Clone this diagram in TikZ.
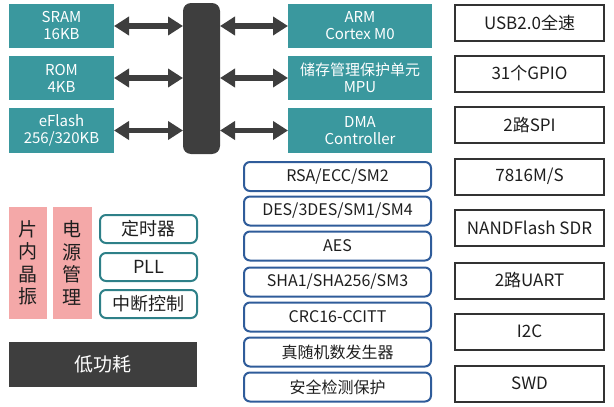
\documentclass[tikz,border=0pt]{standalone}
\usepackage{fontspec}
\setmainfont{Noto Sans CJK SC}
\usetikzlibrary{arrows.meta}
\definecolor{tealbg}{RGB}{58,152,158}
\definecolor{tealline}{RGB}{46,128,136}
\definecolor{busdark}{RGB}{62,62,62}
\definecolor{pinkbg}{RGB}{244,168,168}
\definecolor{blueline}{RGB}{47,92,154}
\definecolor{darkline}{RGB}{50,50,50}
\definecolor{txt}{RGB}{30,30,30}
\tikzset{
  tealbox/.style={fill=tealbg, text=white, inner sep=0pt, outer sep=0pt, align=center,
    font=\fontsize{15}{17}\selectfont},
  busbar/.style={fill=busdark, rounded corners=8pt, inner sep=0pt, outer sep=0pt},
  biarrow/.style={draw=busdark, line width=5.5pt,
    {Triangle[length=15pt,width=18pt]}-{Triangle[length=15pt,width=18pt]}},
  periph/.style={draw=darkline, line width=2pt, fill=white, text=txt, inner sep=0pt, outer sep=0pt,
    minimum width=149pt, minimum height=36pt, font=\fontsize{17}{19}\selectfont},
  cryptobox/.style={draw=blueline, line width=2pt, rounded corners=6pt, text=txt, inner sep=0pt, outer sep=0pt,
    minimum width=187pt, minimum height=29pt, font=\fontsize{16}{18}\selectfont},
  pinkbox/.style={fill=pinkbg, text=txt, inner sep=0pt, outer sep=0pt, align=center,
    minimum height=112pt, font=\fontsize{19}{22.5}\selectfont},
  sysbox/.style={draw=tealline, line width=2pt, rounded corners=6pt, text=txt, inner sep=0pt, outer sep=0pt,
    minimum width=97pt, minimum height=28pt, font=\fontsize{18}{20}\selectfont},
  lowbox/.style={fill=busdark, text=white, inner sep=0pt, outer sep=0pt,
    minimum width=188pt, minimum height=45pt, font=\fontsize{19}{21}\selectfont}
}
\begin{document}
\begin{tikzpicture}[x=1pt,y=-1pt]
\useasboundingbox (0,0) rectangle (614,407);
% left memory boxes
\node[tealbox, minimum width=105pt, minimum height=44pt] (sram) at (61.5,26) {SRAM\\16KB};
\node[tealbox, minimum width=105pt, minimum height=44pt] (rom) at (61.5,78) {ROM\\4KB};
\node[tealbox, minimum width=105pt, minimum height=45pt] (eflash) at (61.5,130.5) {eFlash\\256/320KB};
% bus
\node[busbar, minimum width=37pt, minimum height=151pt] (bus) at (201.5,78.5) {};
% right core boxes
\node[tealbox, minimum width=144pt, minimum height=44pt] (arm) at (360,26) {ARM\\Cortex M0};
\node[tealbox, minimum width=144pt, minimum height=44pt] (mpu) at (360,78) {储存管理保护单元\\MPU};
\node[tealbox, minimum width=144pt, minimum height=45pt] (dma) at (360,130.5) {DMA\\Controller};
% arrows
\draw[biarrow] (sram.east) -- (sram.east -| bus.west);
\draw[biarrow] (rom.east) -- (rom.east -| bus.west);
\draw[biarrow] (eflash.east) -- (eflash.east -| bus.west);
\draw[biarrow] (bus.east |- arm.west) -- (arm.west);
\draw[biarrow] (bus.east |- mpu.west) -- (mpu.west);
\draw[biarrow] (bus.east |- dma.west) -- (dma.west);
% peripherals
\node[periph] (usb) at (529.5,22.5) {USB2.0全速};
\node[periph] (gpio) at (529.5,73.5) {31个GPIO};
\node[periph] (spi) at (529.5,125) {2路SPI};
\node[periph] (iso) at (529.5,176.5) {7816M/S};
\node[periph] (nand) at (529.5,228) {NANDFlash SDR};
\node[periph] (uart) at (529.5,280.5) {2路UART};
\node[periph] (iic) at (529.5,331.5) {I2C};
\node[periph] (swd) at (529.5,383.5) {SWD};
% crypto
\node[cryptobox] (rsa) at (337.5,176.5) {RSA/ECC/SM2};
\node[cryptobox] (des) at (337.5,211) {DES/3DES/SM1/SM4};
\node[cryptobox] (aes) at (337.5,246) {AES};
\node[cryptobox] (sha) at (337.5,282) {SHA1/SHA256/SM3};
\node[cryptobox] (crc) at (337.5,317) {CRC16-CCITT};
\node[cryptobox] (trng) at (337.5,352) {真随机数发生器};
\node[cryptobox] (sec) at (337.5,387) {安全检测保护};
% system
\node[pinkbox, minimum width=38pt] (osc) at (28,263) {片\\内\\晶\\振};
\node[pinkbox, minimum width=39pt] (pwr) at (72.5,263) {电\\源\\管\\理};
\node[sysbox] (timer) at (148.5,229) {定时器};
\node[sysbox] (pll) at (148.5,267) {PLL};
\node[sysbox] (irq) at (148.5,304) {中断控制};
\node[lowbox] (lowp) at (103,364.5) {低功耗};
\end{tikzpicture}
\end{document}
